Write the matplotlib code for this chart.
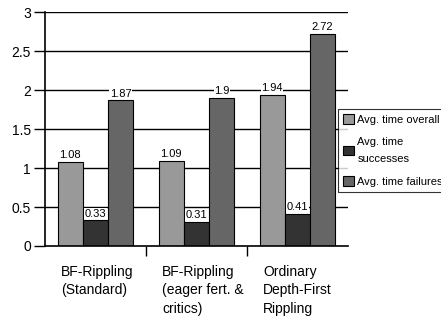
# Bar chart of average times for three rippling strategies
import matplotlib
matplotlib.use("Agg")
import matplotlib.pyplot as plt
import numpy as np

plt.rcParams["font.family"] = ["Liberation Sans", "DejaVu Sans"]

# Data
categories = ["BF-Rippling\n(Standard)",
              "BF-Rippling\n(eager fert. &\ncritics)",
              "Ordinary\nDepth-First\nRippling"]
series_names = ["Avg. time overall", "Avg. time\nsuccesses", "Avg. time failures"]
overall = [1.08, 1.09, 1.94]
successes = [0.33, 0.31, 0.41]
failures = [1.87, 1.9, 2.72]
value_labels = [["1.08", "1.09", "1.94"],
                ["0.33", "0.31", "0.41"],
                ["1.87", "1.9", "2.72"]]
colors = ["#999999", "#333333", "#666666"]

fig = plt.figure(figsize=(4.41, 3.17), dpi=100)
ax = fig.add_axes([0.102, 0.224, 0.687, 0.738])

x = np.arange(len(categories))
width = 0.25
all_series = [overall, successes, failures]

# grid lines behind bars
for yv in np.arange(0.5, 3.01, 0.5):
    ax.axhline(yv, color="black", linewidth=1, zorder=0)

for k, vals in enumerate(all_series):
    pos = x + (k - 1) * width
    ax.bar(pos, vals, width, color=colors[k], edgecolor="black",
           linewidth=0.8, label=series_names[k], zorder=2)
    for p, v, lab in zip(pos, vals, value_labels[k]):
        ax.text(p, v + 0.02, lab, ha="center", va="bottom", fontsize=8,
                bbox=dict(facecolor="white", edgecolor="none", pad=0.3),
                zorder=3)

ax.set_xlim(-0.5, 2.5)
ax.set_ylim(0, 3)
ax.set_yticks(np.arange(0, 3.01, 0.5))
ax.set_yticklabels(["0", "0.5", "1", "1.5", "2", "2.5", "3"], fontsize=10)
ax.tick_params(axis="y", direction="out", length=8, width=1, pad=2)

# category boundary ticks on x axis
ax.set_xticks([0.5, 1.5])
ax.set_xticklabels(["", ""])
ax.tick_params(axis="x", direction="out", length=7, width=1)

for s in ["top", "right"]:
    ax.spines[s].set_visible(False)
ax.spines["left"].set_linewidth(1.2)
ax.spines["bottom"].set_linewidth(1.2)

# multi-line category labels, left aligned
for i, cat in enumerate(categories):
    ax.text(i - 0.34, -0.24, cat, ha="left", va="top", fontsize=10,
            linespacing=1.4, transform=ax.transData, clip_on=False)

leg = fig.legend(loc="upper left", bbox_to_anchor=(0.766, 0.657),
                 fontsize=8, frameon=True, fancybox=False, edgecolor="black",
                 handlelength=1.0, handleheight=1.0, handletextpad=0.3,
                 borderpad=0.45, labelspacing=1.1, borderaxespad=0)
leg.get_frame().set_linewidth(0.8)
for t in leg.get_texts():
    t.set_linespacing(1.9)

fig.savefig("out.png", dpi=100)
